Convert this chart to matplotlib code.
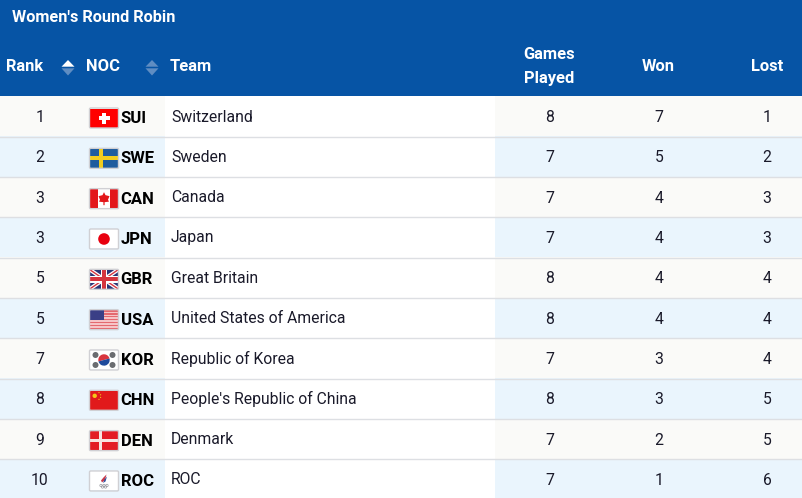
import numpy as np
import matplotlib
matplotlib.use("Agg")
import matplotlib.pyplot as plt
from matplotlib.patches import Rectangle, Polygon, Circle, FancyBboxPatch, Wedge

# --- table content ---
ranks = [1, 2, 3, 3, 5, 5, 7, 8, 9, 10]
nocs = ["SUI", "SWE", "CAN", "JPN", "GBR", "USA", "KOR", "CHN", "DEN", "ROC"]
teams = ["Switzerland", "Sweden", "Canada", "Japan", "Great Britain",
         "United States of America", "Republic of Korea",
         "People's Republic of China", "Denmark", "ROC"]
played = [8, 7, 7, 7, 8, 8, 7, 8, 7, 7]
won = [7, 5, 4, 4, 4, 4, 3, 3, 2, 1]
lost = [1, 2, 3, 3, 4, 4, 4, 5, 5, 6]

BLUE = "#0654A5"
RED = "#E3171B"
TEXT = "#1A1A2A"
W, H = 802, 498
HEAD_H = 96
ROW_TOP = 96.5
ROW_H = 40.33

plt.rcParams["font.family"] = ["Roboto", "DejaVu Sans"]

fig = plt.figure(figsize=(W / 100, H / 100), dpi=100)
ax = fig.add_axes([0, 0, 1, 1])
ax.set_xlim(0, W)
ax.set_ylim(H, 0)
ax.axis("off")


def rect(x, y, w, h, c, z=1):
    ax.add_patch(Rectangle((x, y), w, h, facecolor=c, edgecolor="none", zorder=z))


def circle(x, y, r, c, z=4):
    ax.add_patch(Circle((x, y), r, facecolor=c, edgecolor="none", zorder=z))


# --- flags, x/y is the top left corner of a 28x19 box ---
def draw_flag(noc, x, y):
    fw, fh = 28, 19
    cx, cy = x + fw / 2, y + fh / 2
    if noc == "SUI":
        rect(x, y, fw, fh, "#FF0000", 3)
        rect(cx - 5.5, cy - 1.8, 11, 3.6, "white", 4)
        rect(cx - 1.8, cy - 5.5, 3.6, 11, "white", 4)
    elif noc == "SWE":
        rect(x, y, fw, fh, "#1F5C9E", 3)
        rect(x, cy - 2, fw, 4, "#F2CD1F", 4)
        rect(x + 9, y, 4, fh, "#F2CD1F", 4)
    elif noc == "CAN":
        rect(x, y, fw, fh, "white", 3)
        rect(x, y, 8, fh, RED, 4)
        rect(x + fw - 8, y, 8, fh, RED, 4)
        ax.add_patch(Polygon([(cx, cy - 6.5), (cx + 1.5, cy - 3.5), (cx + 5.5, cy - 2.5), (cx + 4, cy + 1),
                              (cx + 5, cy + 3), (cx + .6, cy + 3.5), (cx + .6, cy + 6.5), (cx - .6, cy + 6.5),
                              (cx - .6, cy + 3.5), (cx - 5, cy + 3), (cx - 4, cy + 1), (cx - 5.5, cy - 2.5),
                              (cx - 1.5, cy - 3.5)], facecolor=RED, edgecolor="none", zorder=5))
    elif noc == "JPN":
        rect(x, y, fw, fh, "white", 3)
        circle(cx, cy, 5.8, "#E8000F")
    elif noc == "GBR":
        rect(x, y, fw, fh, "#2A3576", 3)
        for x0, y0, x1, y1 in [(x, y, x + fw, y + fh), (x, y + fh, x + fw, y)]:
            ax.plot([x0, x1], [y0, y1], color="white", lw=2.8, zorder=4, solid_capstyle="butt")
            ax.plot([x0, x1], [y0, y1], color="#D5343F", lw=1.0, zorder=5, solid_capstyle="butt")
        rect(cx - 3.2, y, 6.4, fh, "white", 6)
        rect(x, cy - 3.2, fw, 6.4, "white", 6)
        rect(cx - 1.9, y, 3.8, fh, "#D5343F", 7)
        rect(x, cy - 1.9, fw, 3.8, "#D5343F", 7)
    elif noc == "USA":
        rect(x, y, fw, fh, "#F6C4C6", 3)
        for i in range(7):
            rect(x, y + i * fh / 6.5, fw, fh / 13, "#E4696F", 4)
        rect(x, y, 13.5, 10, "#3A3F86", 5)
    elif noc == "KOR":
        rect(x, y, fw, fh, "white", 3)
        # y axis is inverted, so the 345-165 wedge is the lower half
        ax.add_patch(Wedge((cx, cy), 5.7, 165, 345, facecolor="#D8353F", edgecolor="none", zorder=4))
        ax.add_patch(Wedge((cx, cy), 5.7, 345, 165, facecolor="#1E4A9C", edgecolor="none", zorder=4))
        for dx, dy in [(-8.5, -5), (8.5, -5), (-8.5, 5), (8.5, 5)]:
            circle(cx + dx, cy + dy, 3, "#6A6C70")
    elif noc == "CHN":
        rect(x, y, fw, fh, "#E1191B", 3)
        circle(x + 4.7, y + 5, 2.2, "#F5C518")
        for dx, dy in [(9, 1.8), (10.6, 4), (10.6, 6.6), (9, 8.6)]:
            circle(x + dx, y + dy, .6, "#F5C518")
    elif noc == "DEN":
        rect(x, y, fw, fh, "#E31B23", 3)
        rect(x, cy - 1.7, fw, 3.4, "#F7E3E0", 4)
        rect(x + 8.5, y, 3.6, fh, "#F7E3E0", 4)
    elif noc == "ROC":
        rect(x, y, fw, fh, "white", 3)
        ax.add_patch(Polygon([(cx + 2.5, y + 3), (cx + 1, y + 8.5), (cx - 2, y + 11), (cx - 3, y + 9), (cx - .5, y + 6)],
                             facecolor="#C83A4A", edgecolor="none", zorder=4))
        ax.add_patch(Polygon([(cx + 3, y + 5), (cx + 1.5, y + 10), (cx - 1, y + 11.5), (cx + .5, y + 8)],
                             facecolor="#2C4F9E", edgecolor="none", zorder=5))
        for dx, dy in [(-3, 14), (0, 14), (3, 14), (-1.5, 15.5), (1.5, 15.5)]:
            ax.add_patch(Circle((cx + dx, y + dy), 1.2, facecolor="none", edgecolor="#9A9AA0", lw=.5, zorder=4))
    # outer grey rim of the flag
    ax.add_patch(FancyBboxPatch((x - .5, y - .5), fw + 1, fh + 1, boxstyle="round,pad=0,rounding_size=1.2",
                                facecolor="none", edgecolor="#D0D0D4", lw=1, zorder=9))


# --- header ---
rect(0, 0, W, HEAD_H, BLUE)
head = dict(color="white", fontweight="bold", va="center", fontsize=11.9)
ax.text(12, 17.5, "Women's Round Robin", color="white", fontweight="bold", va="center", fontsize=11.7)
ax.text(6, 66.5, "Rank", ha="left", **head)
ax.text(86, 66.5, "NOC", ha="left", **head)
ax.text(170, 66.5, "Team", ha="left", **head)
ax.text(549.5, 54.5, "Games", ha="center", **head)
ax.text(549.5, 78.5, "Played", ha="center", **head)
ax.text(658.5, 66.5, "Won", ha="center", **head)
ax.text(767, 66.5, "Lost", ha="center", **head)

# sort arrows
for xc, up_col in [(68, "white"), (152, "#5F8DC2")]:
    ax.add_patch(Polygon([(xc - 6.5, 66.7), (xc + 6.5, 66.7), (xc, 60)], facecolor=up_col, edgecolor="none", zorder=3))
    ax.add_patch(Polygon([(xc - 6.5, 68.3), (xc + 6.5, 68.3), (xc, 75.5)], facecolor="#5F8DC2", edgecolor="none", zorder=3))

# --- rows ---
for i in range(len(ranks)):
    top = ROW_TOP + i * ROW_H
    tint = "#FAFAF8" if i % 2 == 0 else "#EAF5FD"
    rect(0, top - .5, 165, ROW_H + 1, tint)
    rect(495, top - .5, W - 495, ROW_H + 1, tint)
    if i > 0:
        ax.plot([0, W], [top, top], color="#DDDFE3", lw=1, zorder=2)
    cy = top + 21
    body = dict(color=TEXT, va="center", fontsize=11.3)
    ax.text(40, cy, str(ranks[i]), ha="center", **body)
    ax.text(171, cy - .5, teams[i], ha="left", **body)
    ax.text(549.5, cy, str(played[i]), ha="center", **body)
    ax.text(659, cy, str(won[i]), ha="center", **body)
    ax.text(767, cy, str(lost[i]), ha="center", **body)
    draw_flag(nocs[i], 90, top + 12)
    ax.text(120.5, cy + 1, nocs[i], ha="left", va="center", color="black", fontweight="bold", fontsize=12)

fig.savefig("out.png", dpi=100)
